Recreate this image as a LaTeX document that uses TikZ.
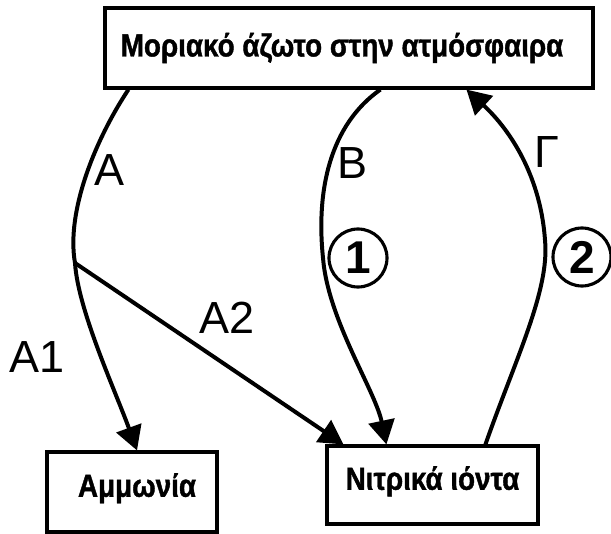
\documentclass[tikz,border=0pt]{standalone}
\usepackage{fontspec}
\setmainfont{Liberation Sans}
\newfontfamily\boxfont{Liberation Sans}[FakeStretch=0.87,FakeBold=1.2]
\usetikzlibrary{arrows.meta,calc}
\tikzset{
	box/.style={draw, line width=1.1mm, inner sep=0pt, font=\boxfont\bfseries\fontsize{32}{32}\selectfont},
	flow/.style={line width=1.4mm},
	arr/.style={flow, -{Triangle[length=24pt,width=26pt]}},
	lbl/.style={font=\fontsize{45}{45}\selectfont},
	circnum/.style={draw, circle, line width=1.1mm, inner sep=0pt, minimum size=58pt, font=\bfseries\fontsize{46}{46}\selectfont}
}

\begin{document}
\begin{tikzpicture}[x=1pt, y=-1pt]
			%%%%% START %%%%%
			\useasboundingbox (0, 0) rectangle (611, 534);
			
			\node[box, minimum width=488pt, minimum height=80pt] (atm) at (349, 48) {Μοριακό άζωτο στην ατμόσφαιρα\hspace*{14pt}};
			\node[box, minimum width=170pt, minimum height=80pt] (ammonia) at (132, 492) {\hspace*{10pt}Αμμωνία\rule[-14pt]{0pt}{14pt}};
			\node[box, minimum width=211pt, minimum height=78pt] (nitrate) at (432.5, 485) {Νιτρικά ιόντα\rule[-14pt]{0pt}{14pt}};
			
			\coordinate (split) at (75, 263);
			
			% A, A1, A2
			\draw[flow] ([xshift=25pt]atm.south west) .. controls (95, 140) and (66, 212) .. (split);
			\draw[arr] (split) .. controls (78, 310) and (115, 390) .. ([xshift=5pt]ammonia.north);
			\draw[arr] (split) -- ([xshift=18pt]nitrate.north west);
			
			% B
			\draw[arr] ([xshift=277pt]atm.south west) .. controls (330, 125) and (316, 190) .. (323, 258)
				.. controls (328, 320) and (375, 390) .. ([xshift=61pt]nitrate.north west);
			
			% Gamma
			\draw[arr] ([xshift=160pt]nitrate.north west) .. controls (515, 360) and (550, 290) .. (545, 240)
				.. controls (540, 170) and (505, 125) .. ([xshift=363pt]atm.south west);
			
			\node[lbl] (lblA) at (110, 170) {A};
			\node[lbl] (lblB) at (353, 163) {B};
			\node[lbl] (lblG) at (547, 152) {Γ};
			\node[lbl] (lblA1) at (37, 357) {A1};
			\node[lbl] (lblA2) at (227, 318) {A2};
			
			\node[circnum] (one) at (358, 258) {1};
			\node[circnum] (two) at (582, 257) {2};
			%%%%% END %%%%%
\end{tikzpicture}
\end{document}
